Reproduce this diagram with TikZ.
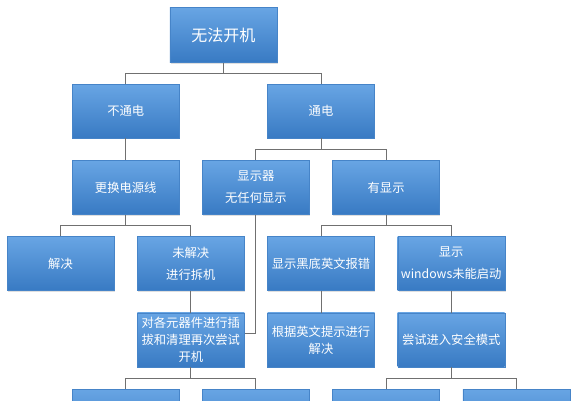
\documentclass[tikz,border=0pt]{standalone}
\usepackage{fontspec}
\newfontfamily\cjk{Noto Sans CJK SC}
\usetikzlibrary{shadows}
\definecolor{boxtop}{RGB}{104,165,228}
\definecolor{boxbot}{RGB}{56,122,195}
\definecolor{boxedge}{RGB}{70,132,200}
\definecolor{conn}{RGB}{112,112,112}
\begin{document}
\begin{tikzpicture}[x=1pt,y=-1pt,
  box/.style={rectangle, minimum width=107pt, minimum height=54pt, inner sep=1pt,
    top color=boxtop, bottom color=boxbot, draw=boxedge, line width=0.4pt,
    text=white, align=center, font=\cjk\fontsize{12.3}{22}\selectfont,
    drop shadow={shadow xshift=0.8pt, shadow yshift=-1.2pt, opacity=0.25}},
  tightbox/.style={font=\cjk\fontsize{12.3}{17}\selectfont},
  bigbox/.style={font=\cjk\fontsize{16}{20}\selectfont, minimum height=55pt},
  link/.style={draw=conn, line width=0.9pt}]
\fill[white] (0,0) rectangle (575,400);
\useasboundingbox (0,0) rectangle (575,400);
\node[box,bigbox] (n0) at (223.3,35) {无法开机};
\node[box] (n1) at (125.7,111.2) {不通电};
\node[box] (n2) at (321,111.2) {通电};
\node[box] (n3) at (125.7,187.4) {更换电源线};
\node[box] (n4) at (255.9,187.4) {显示器\\无任何显示};
\node[box] (n5) at (386.1,187.4) {有显示};
\node[box] (n6) at (60.5,263.6) {解决};
\node[box] (n7) at (190.8,263.6) {未解决\\进行拆机};
\node[box] (n8) at (321,263.6) {显示黑底英文报错};
\node[box] (n9) at (451.2,263.6) {显示\\windows未能启动};
\node[box,tightbox] (n10) at (190.8,339.8) {对各元器件进行插\\拔和清理再次尝试\\开机};
\node[box,tightbox] (n11) at (321,339.8) {根据英文提示进行\\解决};
\node[box] (n12) at (451.2,339.8) {尝试进入安全模式};
\node[box] (n13) at (125.7,416) {};
\node[box] (n14) at (255.9,416) {};
\node[box] (n15) at (386.1,416) {};
\node[box] (n16) at (516.3,416) {};
\draw[link] (n0.south) -- ++(0,10.5) coordinate (b0) -| (n1.north) (b0) -| (n2.north);
\draw[link] (n1.south) -- (n3.north);
\draw[link] (n2.south) -- ++(0,10.8) coordinate (b2) -| (n4.north) (b2) -| (n5.north);
\draw[link] (n3.south) -- ++(0,11.3) coordinate (b3) -| (n6.north) (b3) -| (n7.north);
\draw[link] (n5.south) -- ++(0,11.3) coordinate (b5) -| (n8.north) (b5) -| (n9.north);
\draw[link] (n7.south) -- (n10.north);
\draw[link] (n8.south) -- (n11.north);
\draw[link] (n9.south) -- (n12.north);
\coordinate (j) at ([yshift=6.5pt]n10.east);
\draw[link] (n4.south) |- (j);
\draw[link] (n10.south) -- ++(0,11.3) coordinate (b10) -| (n13.north) (b10) -| (n14.north);
\draw[link] (n12.south) -- ++(0,11.3) coordinate (b12) -| (n15.north) (b12) -| (n16.north);
\end{tikzpicture}
\end{document}
